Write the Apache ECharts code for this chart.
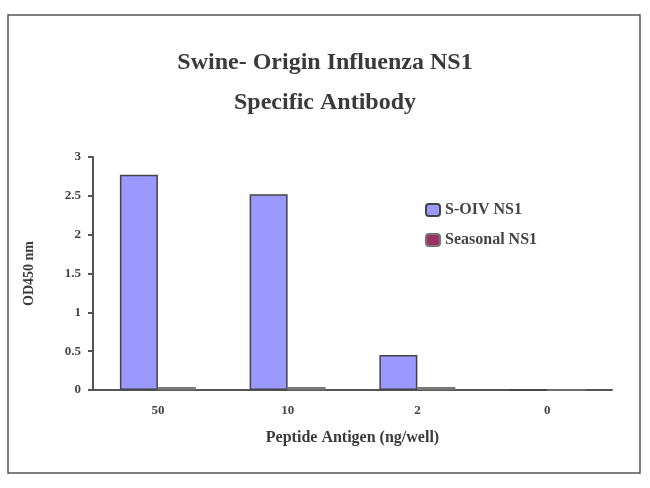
<!DOCTYPE html>
<html><head><meta charset="utf-8">
<script src="https://cdn.jsdelivr.net/npm/echarts@6/dist/echarts.min.js"></script>
<style>html,body{margin:0;background:#fff}#c{width:650px;height:488px}</style>
</head><body><div id="c"></div>
<script>
const categories = ["50", "10", "2", "0"];
const soivValues = [2.77, 2.52, 0.45, 0];
const seasonalValues = [0.04, 0.04, 0.04, 0];
const seriesNames = ["S-OIV NS1", "Seasonal NS1"];
const font = "Liberation Serif";
const chart = echarts.init(document.getElementById('c'));
chart.setOption({
  backgroundColor: '#fff',
  graphic: [{type:'rect', shape:{x:8,y:15,width:632,height:458}, style:{fill:'none', stroke:'#555', lineWidth:1.5}}],
  title: {text: 'Swine- Origin Influenza NS1\nSpecific Antibody', left: 'center', top: 38,
    textStyle: {fontFamily: font, fontWeight: 'bold', fontSize: 24, color: '#3a3a3a', lineHeight: 40}},
  legend: {orient: 'vertical', left: 420, top: 197, itemGap: 14, itemWidth: 14, itemHeight: 12,
    textStyle: {fontFamily: font, fontSize: 16, fontWeight: 'bold', color: '#444'},
    data: seriesNames},
  grid: {left: 93, right: 38, top: 157, bottom: 98},
  xAxis: {type: 'category', data: categories, name: 'Peptide Antigen (ng/well)', nameLocation: 'middle', nameGap: 40,
    nameTextStyle: {fontFamily: font, fontSize: 16, fontWeight: 'bold', color: '#3a3a3a'},
    axisLine: {lineStyle: {color: '#555', width: 2}}, axisTick: {lineStyle: {color: '#555', width: 2}},
    axisLabel: {fontFamily: font, fontWeight: 'bold', fontSize: 13, color: '#444', margin: 14}},
  yAxis: {type: 'value', min: 0, max: 3, interval: 0.5, name: 'OD450 nm', nameLocation: 'middle', nameGap: 57,
    nameTextStyle: {fontFamily: font, fontSize: 14, fontWeight: 'bold', color: '#3a3a3a'},
    axisLine: {show: true, lineStyle: {color: '#555', width: 2}}, axisTick: {show: true, lineStyle: {color: '#555', width: 2}},
    splitLine: {show: false},
    axisLabel: {fontFamily: font, fontWeight: 'bold', fontSize: 13, color: '#444', margin: 12}},
  series: [
    {name: seriesNames[0], type: 'bar', data: soivValues, barWidth: 38, barGap: '0%',
      itemStyle: {color: '#9999ff', borderColor: '#444', borderWidth: 1.5}},
    {name: seriesNames[1], type: 'bar', data: seasonalValues, barWidth: 38,
      itemStyle: {color: '#993366', borderColor: '#777', borderWidth: 1.5}}
  ]
});
</script></body></html>
